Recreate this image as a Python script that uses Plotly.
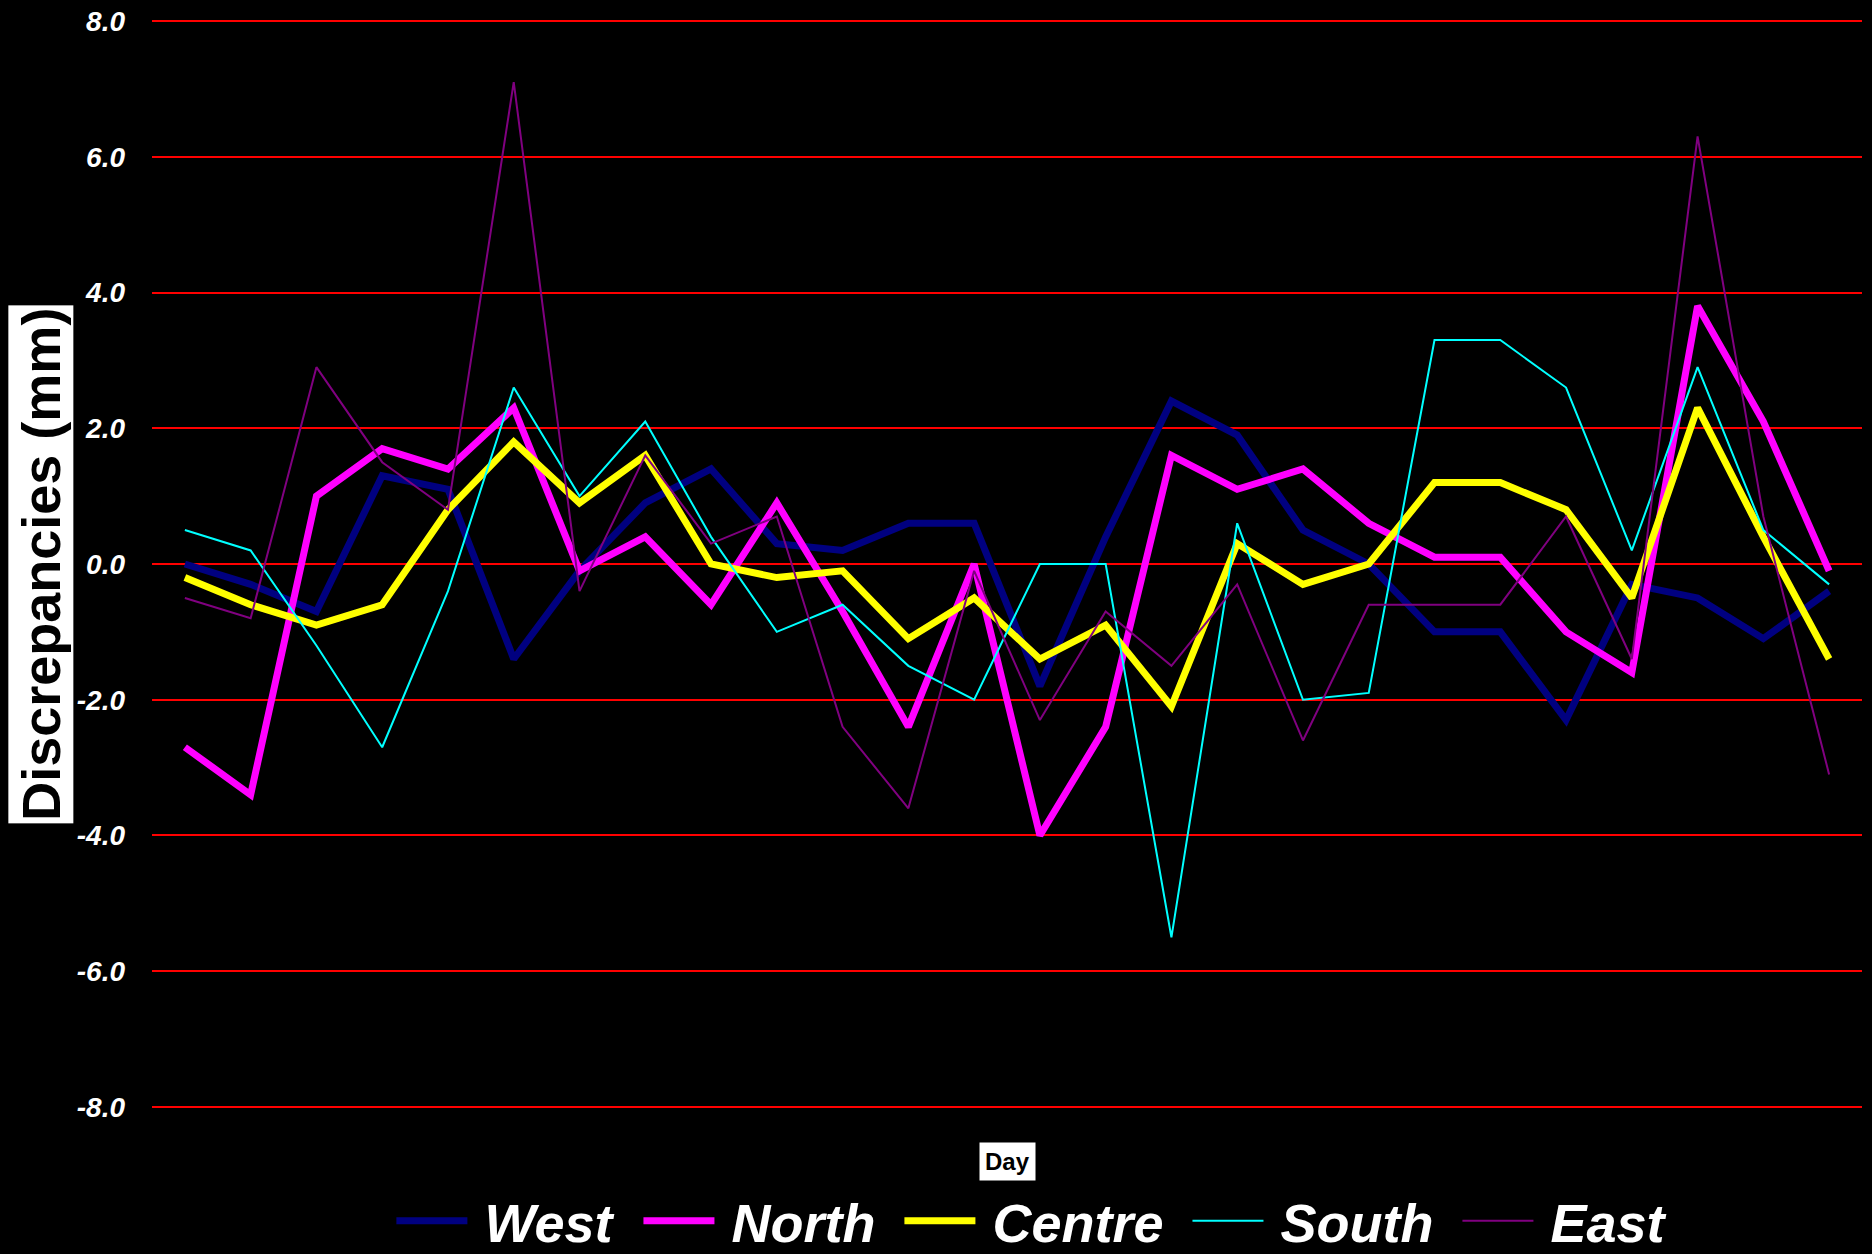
import plotly.graph_objects as go

days = list(range(1, 27))

west = [0.0, -0.3, -0.7, 1.3, 1.1, -1.4, -0.1, 0.9, 1.4, 0.3, 0.2, 0.6, 0.6,
        -1.8, 0.4, 2.4, 1.9, 0.5, 0.0, -1.0, -1.0, -2.3, -0.3, -0.5, -1.1, -0.4]
north = [-2.7, -3.4, 1.0, 1.7, 1.4, 2.3, -0.1, 0.4, -0.6, 0.9, -0.7, -2.4, 0.0,
         -4.0, -2.4, 1.6, 1.1, 1.4, 0.6, 0.1, 0.1, -1.0, -1.6, 3.8, 2.1, -0.1]
centre = [-0.2, -0.6, -0.9, -0.6, 0.8, 1.8, 0.9, 1.6, 0.0, -0.2, -0.1, -1.1, -0.5,
          -1.4, -0.9, -2.1, 0.3, -0.3, 0.0, 1.2, 1.2, 0.8, -0.5, 2.3, 0.4, -1.4]
south = [0.5, 0.2, -1.2, -2.7, -0.4, 2.6, 1.0, 2.1, 0.4, -1.0, -0.6, -1.5, -2.0,
         0.0, 0.0, -5.5, 0.6, -2.0, -1.9, 3.3, 3.3, 2.6, 0.2, 2.9, 0.5, -0.3]
east = [-0.5, -0.8, 2.9, 1.5, 0.8, 7.1, -0.4, 1.6, 0.3, 0.7, -2.4, -3.6, -0.1,
        -2.3, -0.7, -1.5, -0.3, -2.6, -0.6, -0.6, -0.6, 0.7, -1.4, 6.3, 0.7, -3.1]

ytick_vals = [-8, -6, -4, -2, 0, 2, 4, 6, 8]
ytick_labels = ["-8.0", "-6.0", "-4.0", "-2.0", "0.0", "2.0", "4.0", "6.0", "8.0"]

series = [
    ("West", west, "#000080", 7),
    ("North", north, "#FF00FF", 7),
    ("Centre", centre, "#FFFF00", 7),
    ("South", south, "#00FFFF", 2),
    ("East", east, "#800080", 2),
]

FONT = "Liberation Sans, Arial, sans-serif"

fig = go.Figure()
for name, vals, color, w in series:
    fig.add_trace(go.Scatter(
        x=days, y=vals, name=name, mode="lines",
        line=dict(color=color, width=w),
    ))

fig.update_layout(
    width=1872, height=1254,
    paper_bgcolor="black", plot_bgcolor="black",
    margin=dict(l=152, r=10, t=19, b=145, autoexpand=False),
    showlegend=True,
    legend=dict(
        orientation="h", x=0.509, xanchor="center", y=-0.103, yanchor="middle",
        font=dict(family=FONT, size=54, color="white", weight="bold", style="italic"),
        bgcolor="rgba(0,0,0,0)", itemwidth=102,
    ),
    xaxis=dict(
        range=[0.5, 26.5], showticklabels=False, showgrid=False, zeroline=False,
        showline=False, ticks="",
    ),
    yaxis=dict(
        range=[-8.03, 8.03], tickvals=ytick_vals, ticktext=ytick_labels,
        showgrid=True, gridcolor="#FF0000", gridwidth=2,
        zeroline=False, showline=False, ticks="",
        ticklabelstandoff=26,
        tickfont=dict(family=FONT, size=28, color="white", weight="bold", style="italic"),
    ),
    annotations=[
        dict(text="Discrepancies (mm)", textangle=-90, xref="paper", yref="paper",
             x=-0.065, y=0.5, xanchor="center", yanchor="middle", showarrow=False,
             bgcolor="white", borderpad=2,
             font=dict(family=FONT, size=54, color="black", weight="bold")),
        dict(text="Day", xref="paper", yref="paper",
             x=0.5, y=-0.048, xanchor="center", yanchor="middle", showarrow=False,
             bgcolor="white", borderpad=5,
             font=dict(family=FONT, size=24, color="black", weight="bold")),
    ],
)

post = """
document.body.style.margin='0';
document.body.style.background='black';
document.querySelectorAll('.legendlines path').forEach(function(p){
  p.setAttribute('d','M24,0h71');
});
"""

fig.write_html("out.html", post_script=post, config={"displayModeBar": False})
